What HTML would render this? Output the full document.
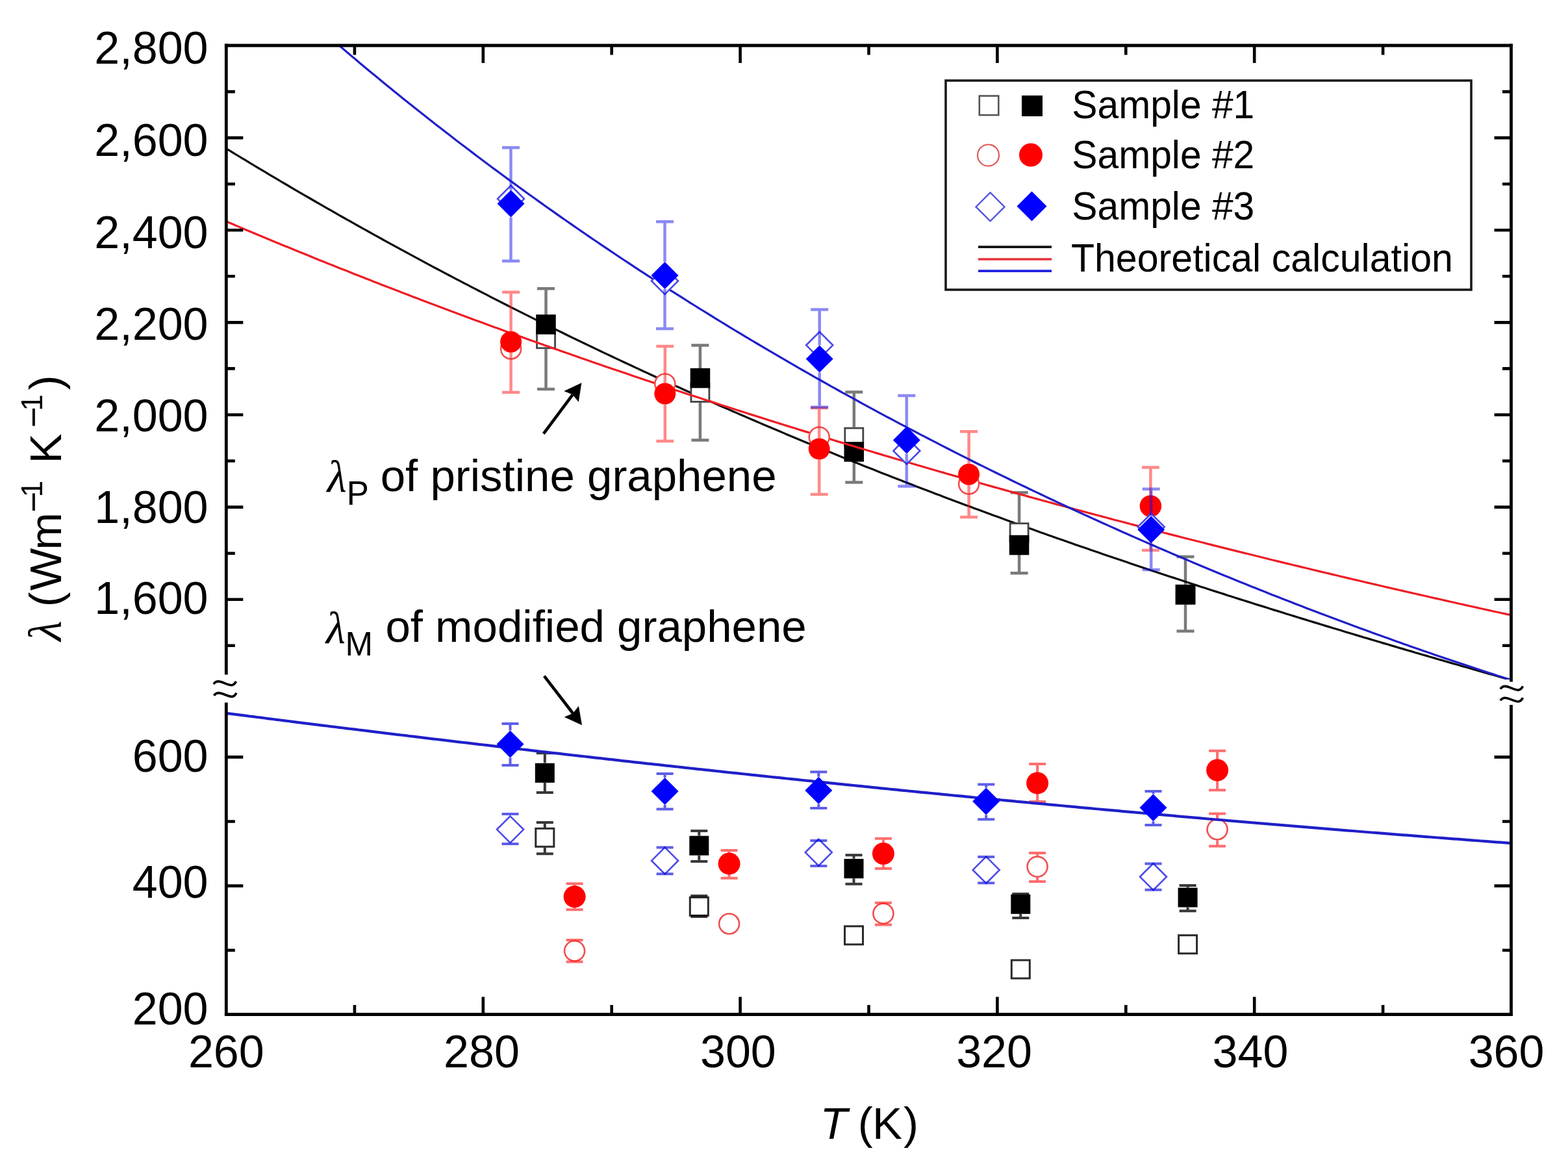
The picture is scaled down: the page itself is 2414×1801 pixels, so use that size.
<!DOCTYPE html><html><head><meta charset="utf-8"><title>Thermal conductivity of graphene</title><style>html,body{margin:0;padding:0;background:#fff;}svg{display:block;}text{font-family:'Liberation Sans',Arial,Helvetica,sans-serif;fill:#000;}</style></head><body>
<svg width="2414" height="1801" viewBox="0 0 2414 1801">
<rect width="2414" height="1801" fill="#fff"/>
<defs><clipPath id="cu"><rect x="348" y="70" width="1979" height="976"/></clipPath><clipPath id="cl"><rect x="348" y="1080" width="1979" height="482"/></clipPath></defs>
<path d="M348.0,228.5 L354.0,232.2 L360.0,235.8 L366.0,239.5 L372.0,243.1 L378.0,246.7 L384.0,250.4 L390.0,254.0 L396.0,257.6 L402.0,261.2 L408.0,264.7 L414.0,268.3 L420.0,271.9 L426.0,275.4 L432.0,279.0 L438.0,282.5 L444.0,286.0 L450.0,289.6 L456.0,293.1 L462.0,296.6 L468.0,300.1 L474.0,303.5 L480.0,307.0 L486.0,310.5 L492.0,313.9 L498.0,317.4 L504.0,320.8 L510.0,324.2 L516.0,327.6 L522.0,331.1 L528.0,334.5 L534.0,337.8 L540.0,341.2 L546.0,344.6 L552.0,348.0 L558.0,351.3 L564.0,354.7 L570.0,358.0 L576.0,361.3 L582.0,364.7 L588.0,368.0 L594.0,371.3 L600.0,374.6 L606.0,377.9 L612.0,381.1 L618.0,384.4 L624.0,387.7 L630.0,390.9 L636.0,394.2 L642.0,397.4 L648.0,400.6 L654.0,403.9 L660.0,407.1 L666.0,410.3 L672.0,413.5 L678.0,416.6 L684.0,419.8 L690.0,423.0 L696.0,426.1 L702.0,429.3 L708.0,432.4 L714.0,435.6 L720.0,438.7 L726.0,441.8 L732.0,444.9 L738.0,448.0 L744.0,451.1 L750.0,454.2 L756.0,457.3 L762.0,460.4 L768.0,463.4 L774.0,466.5 L780.0,469.5 L786.0,472.6 L792.0,475.6 L798.0,478.6 L804.0,481.6 L810.0,484.6 L816.0,487.6 L822.0,490.6 L828.0,493.6 L834.0,496.6 L840.0,499.5 L846.0,502.5 L852.0,505.4 L858.0,508.4 L864.0,511.3 L870.0,514.2 L876.0,517.2 L882.0,520.1 L888.0,523.0 L894.0,525.9 L900.0,528.8 L906.0,531.6 L912.0,534.5 L918.0,537.4 L924.0,540.2 L930.0,543.1 L936.0,545.9 L942.0,548.8 L948.0,551.6 L954.0,554.4 L960.0,557.2 L966.0,560.0 L972.0,562.8 L978.0,565.6 L984.0,568.4 L990.0,571.2 L996.0,573.9 L1002.0,576.7 L1008.0,579.5 L1014.0,582.2 L1020.0,584.9 L1026.0,587.7 L1032.0,590.4 L1038.0,593.1 L1044.0,595.8 L1050.0,598.5 L1056.0,601.2 L1062.0,603.9 L1068.0,606.6 L1074.0,609.3 L1080.0,611.9 L1086.0,614.6 L1092.0,617.2 L1098.0,619.9 L1104.0,622.5 L1110.0,625.2 L1116.0,627.8 L1122.0,630.4 L1128.0,633.0 L1134.0,635.6 L1140.0,638.2 L1146.0,640.8 L1152.0,643.4 L1158.0,646.0 L1164.0,648.5 L1170.0,651.1 L1176.0,653.7 L1182.0,656.2 L1188.0,658.8 L1194.0,661.3 L1200.0,663.8 L1206.0,666.4 L1212.0,668.9 L1218.0,671.4 L1224.0,673.9 L1230.0,676.4 L1236.0,678.9 L1242.0,681.4 L1248.0,683.8 L1254.0,686.3 L1260.0,688.8 L1266.0,691.2 L1272.0,693.7 L1278.0,696.1 L1284.0,698.6 L1290.0,701.0 L1296.0,703.4 L1302.0,705.9 L1308.0,708.3 L1314.0,710.7 L1320.0,713.1 L1326.0,715.5 L1332.0,717.9 L1338.0,720.3 L1344.0,722.6 L1350.0,725.0 L1356.0,727.4 L1362.0,729.7 L1368.0,732.1 L1374.0,734.4 L1380.0,736.8 L1386.0,739.1 L1392.0,741.4 L1398.0,743.8 L1404.0,746.1 L1410.0,748.4 L1416.0,750.7 L1422.0,753.0 L1428.0,755.3 L1434.0,757.6 L1440.0,759.9 L1446.0,762.1 L1452.0,764.4 L1458.0,766.7 L1464.0,768.9 L1470.0,771.2 L1476.0,773.4 L1482.0,775.7 L1488.0,777.9 L1494.0,780.1 L1500.0,782.4 L1506.0,784.6 L1512.0,786.8 L1518.0,789.0 L1524.0,791.2 L1530.0,793.4 L1536.0,795.6 L1542.0,797.8 L1548.0,800.0 L1554.0,802.2 L1560.0,804.3 L1566.0,806.5 L1572.0,808.7 L1578.0,810.8 L1584.0,813.0 L1590.0,815.1 L1596.0,817.3 L1602.0,819.4 L1608.0,821.5 L1614.0,823.7 L1620.0,825.8 L1626.0,827.9 L1632.0,830.0 L1638.0,832.1 L1644.0,834.2 L1650.0,836.3 L1656.0,838.4 L1662.0,840.5 L1668.0,842.6 L1674.0,844.6 L1680.0,846.7 L1686.0,848.8 L1692.0,850.8 L1698.0,852.9 L1704.0,855.0 L1710.0,857.0 L1716.0,859.0 L1722.0,861.1 L1728.0,863.1 L1734.0,865.1 L1740.0,867.2 L1746.0,869.2 L1752.0,871.2 L1758.0,873.2 L1764.0,875.2 L1770.0,877.2 L1776.0,879.2 L1782.0,881.2 L1788.0,883.2 L1794.0,885.2 L1800.0,887.2 L1806.0,889.1 L1812.0,891.1 L1818.0,893.1 L1824.0,895.0 L1830.0,897.0 L1836.0,899.0 L1842.0,900.9 L1848.0,902.9 L1854.0,904.8 L1860.0,906.7 L1866.0,908.7 L1872.0,910.6 L1878.0,912.5 L1884.0,914.4 L1890.0,916.4 L1896.0,918.3 L1902.0,920.2 L1908.0,922.1 L1914.0,924.0 L1920.0,925.9 L1926.0,927.8 L1932.0,929.7 L1938.0,931.6 L1944.0,933.4 L1950.0,935.3 L1956.0,937.2 L1962.0,939.1 L1968.0,940.9 L1974.0,942.8 L1980.0,944.7 L1986.0,946.5 L1992.0,948.4 L1998.0,950.2 L2004.0,952.1 L2010.0,953.9 L2016.0,955.7 L2022.0,957.6 L2028.0,959.4 L2034.0,961.2 L2040.0,963.1 L2046.0,964.9 L2052.0,966.7 L2058.0,968.5 L2064.0,970.3 L2070.0,972.2 L2076.0,974.0 L2082.0,975.8 L2088.0,977.6 L2094.0,979.4 L2100.0,981.2 L2106.0,982.9 L2112.0,984.7 L2118.0,986.5 L2124.0,988.3 L2130.0,990.1 L2136.0,991.8 L2142.0,993.6 L2148.0,995.4 L2154.0,997.2 L2160.0,998.9 L2166.0,1000.7 L2172.0,1002.4 L2178.0,1004.2 L2184.0,1006.0 L2190.0,1007.7 L2196.0,1009.4 L2202.0,1011.2 L2208.0,1012.9 L2214.0,1014.7 L2220.0,1016.4 L2226.0,1018.1 L2232.0,1019.9 L2238.0,1021.6 L2244.0,1023.3 L2250.0,1025.1 L2256.0,1026.8 L2262.0,1028.5 L2268.0,1030.2 L2274.0,1031.9 L2280.0,1033.6 L2286.0,1035.4 L2292.0,1037.1 L2298.0,1038.8 L2304.0,1040.5 L2310.0,1042.2 L2316.0,1043.9 L2322.0,1045.6 L2327.0,1047.0" stroke="#0a0a0a" stroke-width="3.2" fill="none" stroke-linejoin="round" clip-path="url(#cu)"/>
<rect x="826.5" y="507.8" width="28" height="28" fill="#fff" stroke="#444444" stroke-width="2.8"/>
<rect x="1063.9" y="590.4" width="28" height="28" fill="#fff" stroke="#444444" stroke-width="2.8"/>
<rect x="1300.8" y="659.0" width="28" height="28" fill="#fff" stroke="#444444" stroke-width="2.8"/>
<rect x="1555.1" y="805.7" width="28" height="28" fill="#fff" stroke="#444444" stroke-width="2.8"/>
<rect x="1811.0" y="901.2" width="28" height="28" fill="#fff" stroke="#444444" stroke-width="2.8"/>
<rect x="824.8" y="1275.3" width="28" height="28" fill="#fff" stroke="#2a2a2a" stroke-width="3"/>
<rect x="1062.3" y="1381.3" width="28" height="28" fill="#fff" stroke="#2a2a2a" stroke-width="3"/>
<rect x="1300.5" y="1425.8" width="28" height="28" fill="#fff" stroke="#2a2a2a" stroke-width="3"/>
<rect x="1557.3" y="1478.0" width="28" height="28" fill="#fff" stroke="#2a2a2a" stroke-width="3"/>
<rect x="1814.6" y="1439.7" width="28" height="28" fill="#fff" stroke="#2a2a2a" stroke-width="3"/>
<rect x="825.2" y="484.2" width="30.5" height="30.5" fill="#000000"/>
<rect x="1062.7" y="566.8" width="30.5" height="30.5" fill="#000000"/>
<rect x="1299.5" y="680.2" width="30.5" height="30.5" fill="#000000"/>
<rect x="1553.8" y="823.8" width="30.5" height="30.5" fill="#000000"/>
<rect x="1809.8" y="900.0" width="30.5" height="30.5" fill="#000000"/>
<rect x="823.8" y="1174.8" width="30" height="30" fill="#000000"/>
<rect x="1061.3" y="1286.7" width="30" height="30" fill="#000000"/>
<rect x="1299.5" y="1322.1" width="30" height="30" fill="#000000"/>
<rect x="1556.3" y="1376.8" width="30" height="30" fill="#000000"/>
<rect x="1813.6" y="1366.5" width="30" height="30" fill="#000000"/>
<path d="M840.5,444.2 V506.4 M827.0,444.2 H854.0 M840.5,537.2 V599.1 M827.0,599.1 H854.0" stroke="rgba(0,0,0,0.52)" stroke-width="4.5" fill="none"/>
<path d="M1077.9,531.6 V589.0 M1064.4,531.6 H1091.4 M1077.9,619.8 V677.5 M1064.4,677.5 H1091.4" stroke="rgba(0,0,0,0.52)" stroke-width="4.5" fill="none"/>
<path d="M1314.8,603.4 V657.6 M1301.3,603.4 H1328.3 M1314.8,688.4 V742.4 M1301.3,742.4 H1328.3" stroke="rgba(0,0,0,0.52)" stroke-width="4.5" fill="none"/>
<path d="M1569.1,758.2 V804.3 M1555.6,758.2 H1582.6 M1569.1,835.1 V882.2 M1555.6,882.2 H1582.6" stroke="rgba(0,0,0,0.52)" stroke-width="4.5" fill="none"/>
<path d="M1825.0,857.1 V899.8 M1811.5,857.1 H1838.5 M1825.0,930.6 V971.5 M1811.5,971.5 H1838.5" stroke="rgba(0,0,0,0.52)" stroke-width="4.5" fill="none"/>
<path d="M838.8,1159.3 V1174.5 M825.8,1159.3 H851.8 M838.8,1205.0 V1219.9 M825.8,1219.9 H851.8" stroke="rgba(0,0,0,0.78)" stroke-width="4" fill="none"/>
<path d="M1076.3,1279.0 V1286.5 M1063.3,1279.0 H1089.3 M1076.3,1317.0 V1325.9 M1063.3,1325.9 H1089.3" stroke="rgba(0,0,0,0.78)" stroke-width="4" fill="none"/>
<path d="M1314.5,1316.2 V1321.8 M1301.5,1316.2 H1327.5 M1314.5,1352.3 V1360.7 M1301.5,1360.7 H1327.5" stroke="rgba(0,0,0,0.78)" stroke-width="4" fill="none"/>
<path d="M1571.3,1376.0 V1376.5 M1558.3,1376.0 H1584.3 M1571.3,1407.0 V1413.0 M1558.3,1413.0 H1584.3" stroke="rgba(0,0,0,0.78)" stroke-width="4" fill="none"/>
<path d="M1828.6,1363.0 V1366.2 M1815.6,1363.0 H1841.6 M1828.6,1396.8 V1402.2 M1815.6,1402.2 H1841.6" stroke="rgba(0,0,0,0.78)" stroke-width="4" fill="none"/>
<path d="M838.8,1265.9 V1273.9 M825.8,1265.9 H851.8 M838.8,1304.7 V1314.3 M825.8,1314.3 H851.8" stroke="rgba(0,0,0,0.78)" stroke-width="4" fill="none"/>
<path d="M1076.3,1379.0 V1379.9 M1063.3,1379.0 H1089.3 M1076.3,1410.7 V1411.0 M1063.3,1411.0 H1089.3" stroke="rgba(0,0,0,0.78)" stroke-width="4" fill="none"/>



<path d="M348.0,340.7 L354.0,343.3 L360.0,345.8 L366.0,348.4 L372.0,350.9 L378.0,353.4 L384.0,355.9 L390.0,358.5 L396.0,361.0 L402.0,363.5 L408.0,366.0 L414.0,368.5 L420.0,370.9 L426.0,373.4 L432.0,375.9 L438.0,378.4 L444.0,380.8 L450.0,383.3 L456.0,385.7 L462.0,388.2 L468.0,390.6 L474.0,393.1 L480.0,395.5 L486.0,397.9 L492.0,400.4 L498.0,402.8 L504.0,405.2 L510.0,407.6 L516.0,410.0 L522.0,412.4 L528.0,414.8 L534.0,417.1 L540.0,419.5 L546.0,421.9 L552.0,424.3 L558.0,426.6 L564.0,429.0 L570.0,431.3 L576.0,433.7 L582.0,436.0 L588.0,438.4 L594.0,440.7 L600.0,443.0 L606.0,445.3 L612.0,447.6 L618.0,450.0 L624.0,452.3 L630.0,454.6 L636.0,456.9 L642.0,459.1 L648.0,461.4 L654.0,463.7 L660.0,466.0 L666.0,468.2 L672.0,470.5 L678.0,472.8 L684.0,475.0 L690.0,477.3 L696.0,479.5 L702.0,481.8 L708.0,484.0 L714.0,486.2 L720.0,488.5 L726.0,490.7 L732.0,492.9 L738.0,495.1 L744.0,497.3 L750.0,499.5 L756.0,501.7 L762.0,503.9 L768.0,506.1 L774.0,508.3 L780.0,510.4 L786.0,512.6 L792.0,514.8 L798.0,516.9 L804.0,519.1 L810.0,521.2 L816.0,523.4 L822.0,525.5 L828.0,527.7 L834.0,529.8 L840.0,531.9 L846.0,534.1 L852.0,536.2 L858.0,538.3 L864.0,540.4 L870.0,542.5 L876.0,544.6 L882.0,546.7 L888.0,548.8 L894.0,550.9 L900.0,553.0 L906.0,555.1 L912.0,557.2 L918.0,559.2 L924.0,561.3 L930.0,563.4 L936.0,565.4 L942.0,567.5 L948.0,569.5 L954.0,571.6 L960.0,573.6 L966.0,575.6 L972.0,577.7 L978.0,579.7 L984.0,581.7 L990.0,583.8 L996.0,585.8 L1002.0,587.8 L1008.0,589.8 L1014.0,591.8 L1020.0,593.8 L1026.0,595.8 L1032.0,597.8 L1038.0,599.8 L1044.0,601.7 L1050.0,603.7 L1056.0,605.7 L1062.0,607.7 L1068.0,609.6 L1074.0,611.6 L1080.0,613.6 L1086.0,615.5 L1092.0,617.5 L1098.0,619.4 L1104.0,621.3 L1110.0,623.3 L1116.0,625.2 L1122.0,627.1 L1128.0,629.1 L1134.0,631.0 L1140.0,632.9 L1146.0,634.8 L1152.0,636.7 L1158.0,638.6 L1164.0,640.5 L1170.0,642.4 L1176.0,644.3 L1182.0,646.2 L1188.0,648.1 L1194.0,650.0 L1200.0,651.9 L1206.0,653.7 L1212.0,655.6 L1218.0,657.5 L1224.0,659.3 L1230.0,661.2 L1236.0,663.1 L1242.0,664.9 L1248.0,666.8 L1254.0,668.6 L1260.0,670.4 L1266.0,672.3 L1272.0,674.1 L1278.0,675.9 L1284.0,677.8 L1290.0,679.6 L1296.0,681.4 L1302.0,683.2 L1308.0,685.0 L1314.0,686.8 L1320.0,688.6 L1326.0,690.4 L1332.0,692.2 L1338.0,694.0 L1344.0,695.8 L1350.0,697.6 L1356.0,699.4 L1362.0,701.2 L1368.0,702.9 L1374.0,704.7 L1380.0,706.5 L1386.0,708.3 L1392.0,710.0 L1398.0,711.8 L1404.0,713.5 L1410.0,715.3 L1416.0,717.0 L1422.0,718.8 L1428.0,720.5 L1434.0,722.2 L1440.0,724.0 L1446.0,725.7 L1452.0,727.4 L1458.0,729.2 L1464.0,730.9 L1470.0,732.6 L1476.0,734.3 L1482.0,736.0 L1488.0,737.7 L1494.0,739.4 L1500.0,741.1 L1506.0,742.8 L1512.0,744.5 L1518.0,746.2 L1524.0,747.9 L1530.0,749.6 L1536.0,751.3 L1542.0,752.9 L1548.0,754.6 L1554.0,756.3 L1560.0,757.9 L1566.0,759.6 L1572.0,761.3 L1578.0,762.9 L1584.0,764.6 L1590.0,766.2 L1596.0,767.9 L1602.0,769.5 L1608.0,771.2 L1614.0,772.8 L1620.0,774.4 L1626.0,776.1 L1632.0,777.7 L1638.0,779.3 L1644.0,781.0 L1650.0,782.6 L1656.0,784.2 L1662.0,785.8 L1668.0,787.4 L1674.0,789.0 L1680.0,790.6 L1686.0,792.2 L1692.0,793.8 L1698.0,795.4 L1704.0,797.0 L1710.0,798.6 L1716.0,800.2 L1722.0,801.8 L1728.0,803.3 L1734.0,804.9 L1740.0,806.5 L1746.0,808.1 L1752.0,809.6 L1758.0,811.2 L1764.0,812.8 L1770.0,814.3 L1776.0,815.9 L1782.0,817.4 L1788.0,819.0 L1794.0,820.5 L1800.0,822.1 L1806.0,823.6 L1812.0,825.1 L1818.0,826.7 L1824.0,828.2 L1830.0,829.7 L1836.0,831.3 L1842.0,832.8 L1848.0,834.3 L1854.0,835.8 L1860.0,837.4 L1866.0,838.9 L1872.0,840.4 L1878.0,841.9 L1884.0,843.4 L1890.0,844.9 L1896.0,846.4 L1902.0,847.9 L1908.0,849.4 L1914.0,850.9 L1920.0,852.3 L1926.0,853.8 L1932.0,855.3 L1938.0,856.8 L1944.0,858.3 L1950.0,859.7 L1956.0,861.2 L1962.0,862.7 L1968.0,864.1 L1974.0,865.6 L1980.0,867.1 L1986.0,868.5 L1992.0,870.0 L1998.0,871.4 L2004.0,872.9 L2010.0,874.3 L2016.0,875.8 L2022.0,877.2 L2028.0,878.6 L2034.0,880.1 L2040.0,881.5 L2046.0,882.9 L2052.0,884.4 L2058.0,885.8 L2064.0,887.2 L2070.0,888.6 L2076.0,890.1 L2082.0,891.5 L2088.0,892.9 L2094.0,894.3 L2100.0,895.7 L2106.0,897.1 L2112.0,898.5 L2118.0,899.9 L2124.0,901.3 L2130.0,902.7 L2136.0,904.1 L2142.0,905.5 L2148.0,906.9 L2154.0,908.2 L2160.0,909.6 L2166.0,911.0 L2172.0,912.4 L2178.0,913.7 L2184.0,915.1 L2190.0,916.5 L2196.0,917.8 L2202.0,919.2 L2208.0,920.6 L2214.0,921.9 L2220.0,923.3 L2226.0,924.6 L2232.0,926.0 L2238.0,927.3 L2244.0,928.7 L2250.0,930.0 L2256.0,931.4 L2262.0,932.7 L2268.0,934.0 L2274.0,935.4 L2280.0,936.7 L2286.0,938.0 L2292.0,939.4 L2298.0,940.7 L2304.0,942.0 L2310.0,943.3 L2316.0,944.6 L2322.0,945.9 L2327.0,947.0" stroke="#ee1c24" stroke-width="3.2" fill="none" stroke-linejoin="round" clip-path="url(#cu)"/>
<circle cx="786.6" cy="537.0" r="15.5" fill="#fff" stroke="#f05050" stroke-width="2.6"/>
<circle cx="1023.8" cy="591.0" r="15.5" fill="#fff" stroke="#f05050" stroke-width="2.6"/>
<circle cx="1261.2" cy="673.0" r="15.5" fill="#fff" stroke="#f05050" stroke-width="2.6"/>
<circle cx="1491.6" cy="745.0" r="15.5" fill="#fff" stroke="#f05050" stroke-width="2.6"/>
<circle cx="1771.4" cy="779.0" r="15.5" fill="#fff" stroke="#f05050" stroke-width="2.6"/>
<circle cx="884.6" cy="1463.8" r="15.5" fill="#fff" stroke="#f05050" stroke-width="2.6"/>
<circle cx="1122.6" cy="1422.0" r="15.5" fill="#fff" stroke="#f05050" stroke-width="2.6"/>
<circle cx="1359.9" cy="1406.2" r="15.5" fill="#fff" stroke="#f05050" stroke-width="2.6"/>
<circle cx="1597.1" cy="1334.1" r="15.5" fill="#fff" stroke="#f05050" stroke-width="2.6"/>
<circle cx="1874.1" cy="1276.8" r="15.5" fill="#fff" stroke="#f05050" stroke-width="2.6"/>
<circle cx="786.6" cy="526.2" r="16.5" fill="#ff0000"/>
<circle cx="1023.8" cy="606.0" r="16.5" fill="#ff0000"/>
<circle cx="1261.2" cy="691.0" r="16.5" fill="#ff0000"/>
<circle cx="1491.6" cy="730.2" r="16.5" fill="#ff0000"/>
<circle cx="1771.4" cy="779.0" r="16.5" fill="#ff0000"/>
<circle cx="884.6" cy="1380.3" r="17" fill="#ff0000"/>
<circle cx="1122.6" cy="1329.4" r="17" fill="#ff0000"/>
<circle cx="1359.9" cy="1314.0" r="17" fill="#ff0000"/>
<circle cx="1597.1" cy="1205.4" r="17" fill="#ff0000"/>
<circle cx="1874.1" cy="1185.5" r="17" fill="#ff0000"/>
<path d="M786.6,449.7 V509.7 M773.1,449.7 H800.1 M786.6,542.7 V604.0 M773.1,604.0 H800.1" stroke="rgba(255,20,20,0.5)" stroke-width="4.5" fill="none"/>
<path d="M1023.8,533.0 V589.5 M1010.3,533.0 H1037.3 M1023.8,622.5 V679.0 M1010.3,679.0 H1037.3" stroke="rgba(255,20,20,0.5)" stroke-width="4.5" fill="none"/>
<path d="M1261.2,628.0 V674.5 M1247.7,628.0 H1274.7 M1261.2,707.5 V760.9 M1247.7,760.9 H1274.7" stroke="rgba(255,20,20,0.5)" stroke-width="4.5" fill="none"/>
<path d="M1491.6,664.3 V713.7 M1478.1,664.3 H1505.1 M1491.6,746.7 V796.0 M1478.1,796.0 H1505.1" stroke="rgba(255,20,20,0.5)" stroke-width="4.5" fill="none"/>
<path d="M1771.4,719.6 V762.5 M1757.9,719.6 H1784.9 M1771.4,795.5 V847.1 M1757.9,847.1 H1784.9" stroke="rgba(255,20,20,0.5)" stroke-width="4.5" fill="none"/>
<path d="M884.6,1360.3 V1363.8 M871.6,1360.3 H897.6 M884.6,1396.8 V1400.2 M871.6,1400.2 H897.6" stroke="rgba(255,20,20,0.62)" stroke-width="4" fill="none"/>
<path d="M1122.6,1309.0 V1312.9 M1109.6,1309.0 H1135.6 M1122.6,1345.9 V1351.7 M1109.6,1351.7 H1135.6" stroke="rgba(255,20,20,0.62)" stroke-width="4" fill="none"/>
<path d="M1359.9,1290.8 V1297.5 M1346.9,1290.8 H1372.9 M1359.9,1330.5 V1337.1 M1346.9,1337.1 H1372.9" stroke="rgba(255,20,20,0.62)" stroke-width="4" fill="none"/>
<path d="M1597.1,1176.1 V1188.9 M1584.1,1176.1 H1610.1 M1597.1,1221.9 V1233.9 M1584.1,1233.9 H1610.1" stroke="rgba(255,20,20,0.62)" stroke-width="4" fill="none"/>
<path d="M1874.1,1155.8 V1169.0 M1861.1,1155.8 H1887.1 M1874.1,1202.0 V1216.3 M1861.1,1216.3 H1887.1" stroke="rgba(255,20,20,0.62)" stroke-width="4" fill="none"/>
<path d="M871.6,1447.0 H897.6 M871.6,1480.5 H897.6" stroke="rgba(255,20,20,0.62)" stroke-width="4" fill="none"/>

<path d="M1346.9,1389.8 H1372.9 M1359.9,1423.0 V1423.4 M1346.9,1423.4 H1372.9" stroke="rgba(255,20,20,0.62)" stroke-width="4" fill="none"/>
<path d="M1597.1,1313.0 V1317.3 M1584.1,1313.0 H1610.1 M1597.1,1350.9 V1357.1 M1584.1,1357.1 H1610.1" stroke="rgba(255,20,20,0.62)" stroke-width="4" fill="none"/>
<path d="M1874.1,1252.6 V1260.0 M1861.1,1252.6 H1887.1 M1874.1,1293.6 V1302.5 M1861.1,1302.5 H1887.1" stroke="rgba(255,20,20,0.62)" stroke-width="4" fill="none"/>
<path d="M505.0,55.4 L511.0,60.6 L517.0,65.7 L523.0,70.8 L529.0,75.9 L535.0,81.0 L541.0,86.1 L547.0,91.1 L553.0,96.2 L559.0,101.2 L565.0,106.2 L571.0,111.2 L577.0,116.1 L583.0,121.1 L589.0,126.0 L595.0,130.9 L601.0,135.8 L607.0,140.7 L613.0,145.5 L619.0,150.4 L625.0,155.2 L631.0,160.0 L637.0,164.8 L643.0,169.5 L649.0,174.3 L655.0,179.0 L661.0,183.8 L667.0,188.5 L673.0,193.2 L679.0,197.8 L685.0,202.5 L691.0,207.1 L697.0,211.8 L703.0,216.4 L709.0,221.0 L715.0,225.5 L721.0,230.1 L727.0,234.6 L733.0,239.2 L739.0,243.7 L745.0,248.2 L751.0,252.7 L757.0,257.2 L763.0,261.6 L769.0,266.0 L775.0,270.5 L781.0,274.9 L787.0,279.3 L793.0,283.6 L799.0,288.0 L805.0,292.4 L811.0,296.7 L817.0,301.0 L823.0,305.3 L829.0,309.6 L835.0,313.9 L841.0,318.2 L847.0,322.4 L853.0,326.6 L859.0,330.9 L865.0,335.1 L871.0,339.2 L877.0,343.4 L883.0,347.6 L889.0,351.7 L895.0,355.9 L901.0,360.0 L907.0,364.1 L913.0,368.2 L919.0,372.3 L925.0,376.3 L931.0,380.4 L937.0,384.4 L943.0,388.5 L949.0,392.5 L955.0,396.5 L961.0,400.5 L967.0,404.4 L973.0,408.4 L979.0,412.3 L985.0,416.3 L991.0,420.2 L997.0,424.1 L1003.0,428.0 L1009.0,431.9 L1015.0,435.8 L1021.0,439.6 L1027.0,443.5 L1033.0,447.3 L1039.0,451.1 L1045.0,454.9 L1051.0,458.7 L1057.0,462.5 L1063.0,466.3 L1069.0,470.0 L1075.0,473.8 L1081.0,477.5 L1087.0,481.2 L1093.0,484.9 L1099.0,488.6 L1105.0,492.3 L1111.0,496.0 L1117.0,499.7 L1123.0,503.3 L1129.0,507.0 L1135.0,510.6 L1141.0,514.2 L1147.0,517.8 L1153.0,521.4 L1159.0,525.0 L1165.0,528.5 L1171.0,532.1 L1177.0,535.7 L1183.0,539.2 L1189.0,542.7 L1195.0,546.2 L1201.0,549.7 L1207.0,553.2 L1213.0,556.7 L1219.0,560.2 L1225.0,563.6 L1231.0,567.1 L1237.0,570.5 L1243.0,573.9 L1249.0,577.4 L1255.0,580.8 L1261.0,584.2 L1267.0,587.5 L1273.0,590.9 L1279.0,594.3 L1285.0,597.6 L1291.0,601.0 L1297.0,604.3 L1303.0,607.6 L1309.0,610.9 L1315.0,614.2 L1321.0,617.5 L1327.0,620.8 L1333.0,624.1 L1339.0,627.3 L1345.0,630.6 L1351.0,633.8 L1357.0,637.1 L1363.0,640.3 L1369.0,643.5 L1375.0,646.7 L1381.0,649.9 L1387.0,653.1 L1393.0,656.2 L1399.0,659.4 L1405.0,662.5 L1411.0,665.7 L1417.0,668.8 L1423.0,671.9 L1429.0,675.0 L1435.0,678.1 L1441.0,681.2 L1447.0,684.3 L1453.0,687.4 L1459.0,690.5 L1465.0,693.5 L1471.0,696.6 L1477.0,699.6 L1483.0,702.6 L1489.0,705.7 L1495.0,708.7 L1501.0,711.7 L1507.0,714.7 L1513.0,717.6 L1519.0,720.6 L1525.0,723.6 L1531.0,726.5 L1537.0,729.5 L1543.0,732.4 L1549.0,735.3 L1555.0,738.3 L1561.0,741.2 L1567.0,744.1 L1573.0,747.0 L1579.0,749.8 L1585.0,752.7 L1591.0,755.6 L1597.0,758.4 L1603.0,761.3 L1609.0,764.1 L1615.0,767.0 L1621.0,769.8 L1627.0,772.6 L1633.0,775.4 L1639.0,778.2 L1645.0,781.0 L1651.0,783.8 L1657.0,786.5 L1663.0,789.3 L1669.0,792.1 L1675.0,794.8 L1681.0,797.6 L1687.0,800.3 L1693.0,803.0 L1699.0,805.7 L1705.0,808.4 L1711.0,811.1 L1717.0,813.8 L1723.0,816.5 L1729.0,819.2 L1735.0,821.8 L1741.0,824.5 L1747.0,827.1 L1753.0,829.8 L1759.0,832.4 L1765.0,835.0 L1771.0,837.6 L1777.0,840.3 L1783.0,842.9 L1789.0,845.5 L1795.0,848.0 L1801.0,850.6 L1807.0,853.2 L1813.0,855.7 L1819.0,858.3 L1825.0,860.8 L1831.0,863.4 L1837.0,865.9 L1843.0,868.4 L1849.0,870.9 L1855.0,873.4 L1861.0,875.9 L1867.0,878.4 L1873.0,880.9 L1879.0,883.4 L1885.0,885.9 L1891.0,888.3 L1897.0,890.8 L1903.0,893.2 L1909.0,895.7 L1915.0,898.1 L1921.0,900.5 L1927.0,902.9 L1933.0,905.3 L1939.0,907.7 L1945.0,910.1 L1951.0,912.5 L1957.0,914.9 L1963.0,917.2 L1969.0,919.6 L1975.0,921.9 L1981.0,924.3 L1987.0,926.6 L1993.0,929.0 L1999.0,931.3 L2005.0,933.6 L2011.0,935.9 L2017.0,938.2 L2023.0,940.5 L2029.0,942.8 L2035.0,945.1 L2041.0,947.3 L2047.0,949.6 L2053.0,951.8 L2059.0,954.1 L2065.0,956.3 L2071.0,958.6 L2077.0,960.8 L2083.0,963.0 L2089.0,965.2 L2095.0,967.4 L2101.0,969.6 L2107.0,971.8 L2113.0,974.0 L2119.0,976.2 L2125.0,978.3 L2131.0,980.5 L2137.0,982.6 L2143.0,984.8 L2149.0,986.9 L2155.0,989.1 L2161.0,991.2 L2167.0,993.3 L2173.0,995.4 L2179.0,997.5 L2185.0,999.6 L2191.0,1001.7 L2197.0,1003.7 L2203.0,1005.8 L2209.0,1007.9 L2215.0,1009.9 L2221.0,1012.0 L2227.0,1014.0 L2233.0,1016.1 L2239.0,1018.1 L2245.0,1020.1 L2251.0,1022.1 L2257.0,1024.1 L2263.0,1026.1 L2269.0,1028.1 L2275.0,1030.1 L2281.0,1032.0 L2287.0,1034.0 L2293.0,1036.0 L2299.0,1037.9 L2305.0,1039.9 L2311.0,1041.8 L2317.0,1043.7 L2323.0,1045.6 L2327.0,1046.9" stroke="#1f1fc8" stroke-width="3.2" fill="none" stroke-linejoin="round" clip-path="url(#cu)"/>
<path d="M348.0,1097.9 L354.0,1098.6 L360.0,1099.4 L366.0,1100.2 L372.0,1100.9 L378.0,1101.7 L384.0,1102.5 L390.0,1103.2 L396.0,1104.0 L402.0,1104.7 L408.0,1105.5 L414.0,1106.3 L420.0,1107.0 L426.0,1107.8 L432.0,1108.5 L438.0,1109.3 L444.0,1110.0 L450.0,1110.8 L456.0,1111.6 L462.0,1112.3 L468.0,1113.1 L474.0,1113.8 L480.0,1114.6 L486.0,1115.3 L492.0,1116.1 L498.0,1116.8 L504.0,1117.5 L510.0,1118.3 L516.0,1119.0 L522.0,1119.8 L528.0,1120.5 L534.0,1121.3 L540.0,1122.0 L546.0,1122.7 L552.0,1123.5 L558.0,1124.2 L564.0,1124.9 L570.0,1125.7 L576.0,1126.4 L582.0,1127.1 L588.0,1127.9 L594.0,1128.6 L600.0,1129.3 L606.0,1130.1 L612.0,1130.8 L618.0,1131.5 L624.0,1132.2 L630.0,1133.0 L636.0,1133.7 L642.0,1134.4 L648.0,1135.1 L654.0,1135.8 L660.0,1136.6 L666.0,1137.3 L672.0,1138.0 L678.0,1138.7 L684.0,1139.4 L690.0,1140.1 L696.0,1140.9 L702.0,1141.6 L708.0,1142.3 L714.0,1143.0 L720.0,1143.7 L726.0,1144.4 L732.0,1145.1 L738.0,1145.8 L744.0,1146.5 L750.0,1147.2 L756.0,1147.9 L762.0,1148.6 L768.0,1149.3 L774.0,1150.0 L780.0,1150.7 L786.0,1151.4 L792.0,1152.1 L798.0,1152.8 L804.0,1153.5 L810.0,1154.2 L816.0,1154.9 L822.0,1155.6 L828.0,1156.3 L834.0,1157.0 L840.0,1157.7 L846.0,1158.4 L852.0,1159.1 L858.0,1159.7 L864.0,1160.4 L870.0,1161.1 L876.0,1161.8 L882.0,1162.5 L888.0,1163.2 L894.0,1163.8 L900.0,1164.5 L906.0,1165.2 L912.0,1165.9 L918.0,1166.6 L924.0,1167.2 L930.0,1167.9 L936.0,1168.6 L942.0,1169.2 L948.0,1169.9 L954.0,1170.6 L960.0,1171.3 L966.0,1171.9 L972.0,1172.6 L978.0,1173.3 L984.0,1173.9 L990.0,1174.6 L996.0,1175.3 L1002.0,1175.9 L1008.0,1176.6 L1014.0,1177.2 L1020.0,1177.9 L1026.0,1178.6 L1032.0,1179.2 L1038.0,1179.9 L1044.0,1180.5 L1050.0,1181.2 L1056.0,1181.8 L1062.0,1182.5 L1068.0,1183.1 L1074.0,1183.8 L1080.0,1184.4 L1086.0,1185.1 L1092.0,1185.7 L1098.0,1186.4 L1104.0,1187.0 L1110.0,1187.7 L1116.0,1188.3 L1122.0,1189.0 L1128.0,1189.6 L1134.0,1190.2 L1140.0,1190.9 L1146.0,1191.5 L1152.0,1192.2 L1158.0,1192.8 L1164.0,1193.4 L1170.0,1194.1 L1176.0,1194.7 L1182.0,1195.3 L1188.0,1196.0 L1194.0,1196.6 L1200.0,1197.2 L1206.0,1197.9 L1212.0,1198.5 L1218.0,1199.1 L1224.0,1199.7 L1230.0,1200.4 L1236.0,1201.0 L1242.0,1201.6 L1248.0,1202.2 L1254.0,1202.9 L1260.0,1203.5 L1266.0,1204.1 L1272.0,1204.7 L1278.0,1205.3 L1284.0,1205.9 L1290.0,1206.6 L1296.0,1207.2 L1302.0,1207.8 L1308.0,1208.4 L1314.0,1209.0 L1320.0,1209.6 L1326.0,1210.2 L1332.0,1210.8 L1338.0,1211.4 L1344.0,1212.1 L1350.0,1212.7 L1356.0,1213.3 L1362.0,1213.9 L1368.0,1214.5 L1374.0,1215.1 L1380.0,1215.7 L1386.0,1216.3 L1392.0,1216.9 L1398.0,1217.5 L1404.0,1218.1 L1410.0,1218.7 L1416.0,1219.3 L1422.0,1219.8 L1428.0,1220.4 L1434.0,1221.0 L1440.0,1221.6 L1446.0,1222.2 L1452.0,1222.8 L1458.0,1223.4 L1464.0,1224.0 L1470.0,1224.6 L1476.0,1225.1 L1482.0,1225.7 L1488.0,1226.3 L1494.0,1226.9 L1500.0,1227.5 L1506.0,1228.0 L1512.0,1228.6 L1518.0,1229.2 L1524.0,1229.8 L1530.0,1230.4 L1536.0,1230.9 L1542.0,1231.5 L1548.0,1232.1 L1554.0,1232.6 L1560.0,1233.2 L1566.0,1233.8 L1572.0,1234.4 L1578.0,1234.9 L1584.0,1235.5 L1590.0,1236.1 L1596.0,1236.6 L1602.0,1237.2 L1608.0,1237.7 L1614.0,1238.3 L1620.0,1238.9 L1626.0,1239.4 L1632.0,1240.0 L1638.0,1240.5 L1644.0,1241.1 L1650.0,1241.7 L1656.0,1242.2 L1662.0,1242.8 L1668.0,1243.3 L1674.0,1243.9 L1680.0,1244.4 L1686.0,1245.0 L1692.0,1245.5 L1698.0,1246.1 L1704.0,1246.6 L1710.0,1247.2 L1716.0,1247.7 L1722.0,1248.2 L1728.0,1248.8 L1734.0,1249.3 L1740.0,1249.9 L1746.0,1250.4 L1752.0,1250.9 L1758.0,1251.5 L1764.0,1252.0 L1770.0,1252.6 L1776.0,1253.1 L1782.0,1253.6 L1788.0,1254.2 L1794.0,1254.7 L1800.0,1255.2 L1806.0,1255.7 L1812.0,1256.3 L1818.0,1256.8 L1824.0,1257.3 L1830.0,1257.9 L1836.0,1258.4 L1842.0,1258.9 L1848.0,1259.4 L1854.0,1260.0 L1860.0,1260.5 L1866.0,1261.0 L1872.0,1261.5 L1878.0,1262.0 L1884.0,1262.5 L1890.0,1263.1 L1896.0,1263.6 L1902.0,1264.1 L1908.0,1264.6 L1914.0,1265.1 L1920.0,1265.6 L1926.0,1266.1 L1932.0,1266.6 L1938.0,1267.2 L1944.0,1267.7 L1950.0,1268.2 L1956.0,1268.7 L1962.0,1269.2 L1968.0,1269.7 L1974.0,1270.2 L1980.0,1270.7 L1986.0,1271.2 L1992.0,1271.7 L1998.0,1272.2 L2004.0,1272.7 L2010.0,1273.2 L2016.0,1273.7 L2022.0,1274.2 L2028.0,1274.7 L2034.0,1275.1 L2040.0,1275.6 L2046.0,1276.1 L2052.0,1276.6 L2058.0,1277.1 L2064.0,1277.6 L2070.0,1278.1 L2076.0,1278.6 L2082.0,1279.0 L2088.0,1279.5 L2094.0,1280.0 L2100.0,1280.5 L2106.0,1281.0 L2112.0,1281.5 L2118.0,1281.9 L2124.0,1282.4 L2130.0,1282.9 L2136.0,1283.4 L2142.0,1283.8 L2148.0,1284.3 L2154.0,1284.8 L2160.0,1285.3 L2166.0,1285.7 L2172.0,1286.2 L2178.0,1286.7 L2184.0,1287.1 L2190.0,1287.6 L2196.0,1288.1 L2202.0,1288.5 L2208.0,1289.0 L2214.0,1289.5 L2220.0,1289.9 L2226.0,1290.4 L2232.0,1290.8 L2238.0,1291.3 L2244.0,1291.7 L2250.0,1292.2 L2256.0,1292.7 L2262.0,1293.1 L2268.0,1293.6 L2274.0,1294.0 L2280.0,1294.5 L2286.0,1294.9 L2292.0,1295.4 L2298.0,1295.8 L2304.0,1296.3 L2310.0,1296.7 L2316.0,1297.2 L2322.0,1297.6 L2326.0,1297.9" stroke="#1f1fc8" stroke-width="4.2" fill="none" stroke-linejoin="round"/>
<polygon points="786.5,285.5 807.0,306.0 786.5,326.5 766.0,306.0" fill="#fff" stroke="#4a4ae8" stroke-width="2.6"/>
<polygon points="1023.5,412.0 1044.0,432.5 1023.5,453.0 1003.0,432.5" fill="#fff" stroke="#4a4ae8" stroke-width="2.6"/>
<polygon points="1261.7,510.8 1282.2,531.3 1261.7,551.8 1241.2,531.3" fill="#fff" stroke="#4a4ae8" stroke-width="2.6"/>
<polygon points="1395.8,673.5 1416.3,694.0 1395.8,714.5 1375.3,694.0" fill="#fff" stroke="#4a4ae8" stroke-width="2.6"/>
<polygon points="1772.2,790.5 1792.7,811.0 1772.2,831.5 1751.7,811.0" fill="#fff" stroke="#4a4ae8" stroke-width="2.6"/>
<polygon points="785.5,1256.3 806.0,1276.8 785.5,1297.3 765.0,1276.8" fill="#fff" stroke="#4a4ae8" stroke-width="2.6"/>
<polygon points="1023.6,1304.4 1044.1,1324.9 1023.6,1345.4 1003.1,1324.9" fill="#fff" stroke="#4a4ae8" stroke-width="2.6"/>
<polygon points="1260.3,1291.6 1280.8,1312.1 1260.3,1332.6 1239.8,1312.1" fill="#fff" stroke="#4a4ae8" stroke-width="2.6"/>
<polygon points="1518.2,1318.7 1538.7,1339.2 1518.2,1359.7 1497.7,1339.2" fill="#fff" stroke="#4a4ae8" stroke-width="2.6"/>
<polygon points="1775.5,1329.1 1796.0,1349.6 1775.5,1370.1 1755.0,1349.6" fill="#fff" stroke="#4a4ae8" stroke-width="2.6"/>
<polygon points="786.5,292.5 807.5,313.5 786.5,334.5 765.5,313.5" fill="#0000ff"/>
<polygon points="1023.5,403.0 1044.5,424.0 1023.5,445.0 1002.5,424.0" fill="#0000ff"/>
<polygon points="1261.7,531.4 1282.7,552.4 1261.7,573.4 1240.7,552.4" fill="#0000ff"/>
<polygon points="1395.8,656.4 1416.8,677.4 1395.8,698.4 1374.8,677.4" fill="#0000ff"/>
<polygon points="1772.2,794.3 1793.2,815.3 1772.2,836.3 1751.2,815.3" fill="#0000ff"/>
<polygon points="785.5,1124.4 806.5,1145.4 785.5,1166.4 764.5,1145.4" fill="#0000ff"/>
<polygon points="1023.6,1197.1 1044.6,1218.1 1023.6,1239.1 1002.6,1218.1" fill="#0000ff"/>
<polygon points="1260.3,1195.8 1281.3,1216.8 1260.3,1237.8 1239.3,1216.8" fill="#0000ff"/>
<polygon points="1518.2,1212.4 1539.2,1233.4 1518.2,1254.4 1497.2,1233.4" fill="#0000ff"/>
<polygon points="1775.5,1222.2 1796.5,1243.2 1775.5,1264.2 1754.5,1243.2" fill="#0000ff"/>
<path d="M786.5,227.3 V292.5 M773.0,227.3 H800.0 M786.5,334.5 V401.8 M773.0,401.8 H800.0" stroke="rgba(10,10,230,0.48)" stroke-width="4.5" fill="none"/>
<path d="M1023.5,341.3 V403.0 M1010.0,341.3 H1037.0 M1023.5,445.0 V506.1 M1010.0,506.1 H1037.0" stroke="rgba(10,10,230,0.48)" stroke-width="4.5" fill="none"/>
<path d="M1261.7,476.4 V531.4 M1248.2,476.4 H1275.2 M1261.7,573.4 V626.7 M1248.2,626.7 H1275.2" stroke="rgba(10,10,230,0.48)" stroke-width="4.5" fill="none"/>
<path d="M1395.8,609.1 V656.4 M1382.3,609.1 H1409.3 M1395.8,698.4 V748.6 M1382.3,748.6 H1409.3" stroke="rgba(10,10,230,0.48)" stroke-width="4.5" fill="none"/>
<path d="M1772.2,752.7 V794.3 M1758.7,752.7 H1785.7 M1772.2,836.3 V877.1 M1758.7,877.1 H1785.7" stroke="rgba(10,10,230,0.48)" stroke-width="4.5" fill="none"/>
<path d="M785.5,1114.0 V1124.4 M772.5,1114.0 H798.5 M785.5,1166.4 V1178.0 M772.5,1178.0 H798.5" stroke="rgba(10,10,220,0.66)" stroke-width="4" fill="none"/>
<path d="M1023.6,1190.9 V1197.1 M1010.6,1190.9 H1036.6 M1023.6,1239.1 V1245.4 M1010.6,1245.4 H1036.6" stroke="rgba(10,10,220,0.66)" stroke-width="4" fill="none"/>
<path d="M1260.3,1188.2 V1195.8 M1247.3,1188.2 H1273.3 M1260.3,1237.8 V1244.1 M1247.3,1244.1 H1273.3" stroke="rgba(10,10,220,0.66)" stroke-width="4" fill="none"/>
<path d="M1518.2,1207.5 V1212.4 M1505.2,1207.5 H1531.2 M1518.2,1254.4 V1261.2 M1505.2,1261.2 H1531.2" stroke="rgba(10,10,220,0.66)" stroke-width="4" fill="none"/>
<path d="M1775.5,1217.9 V1222.2 M1762.5,1217.9 H1788.5 M1775.5,1264.2 V1270.1 M1762.5,1270.1 H1788.5" stroke="rgba(10,10,220,0.66)" stroke-width="4" fill="none"/>
<path d="M785.5,1253.0 V1255.0 M772.5,1253.0 H798.5 M785.5,1298.6 V1299.0 M772.5,1299.0 H798.5" stroke="rgba(10,10,220,0.66)" stroke-width="4" fill="none"/>
<path d="M1010.6,1304.4 H1036.6 M1010.6,1345.3 H1036.6" stroke="rgba(10,10,220,0.66)" stroke-width="4" fill="none"/>
<path d="M1247.3,1293.9 H1273.3 M1247.3,1333.1 H1273.3" stroke="rgba(10,10,220,0.66)" stroke-width="4" fill="none"/>
<path d="M1505.2,1319.0 H1531.2 M1505.2,1359.3 H1531.2" stroke="rgba(10,10,220,0.66)" stroke-width="4" fill="none"/>
<path d="M1762.5,1329.4 H1788.5 M1762.5,1369.7 H1788.5" stroke="rgba(10,10,220,0.66)" stroke-width="4" fill="none"/>
<g stroke="#000" stroke-width="4.8" fill="none" stroke-linecap="square">
<path d="M348.3,70.0 H2326.5"/>
<path d="M348.3,1561.5 H2326.5"/>
<path d="M348.3,70.0 V1036.2"/>
<path d="M348.3,1083.8 V1561.5"/>
<path d="M2326.5,70.0 V1047"/>
<path d="M2326.5,1087.5 V1561.5"/>
</g>
<path d="M545.9,1561.5 V1547.0 M545.9,70.0 V84.5 M743.8,1561.5 V1534.5 M743.8,70.0 V97.0 M941.7,1561.5 V1547.0 M941.7,70.0 V84.5 M1139.6,1561.5 V1534.5 M1139.6,70.0 V97.0 M1337.5,1561.5 V1547.0 M1337.5,70.0 V84.5 M1535.4,1561.5 V1534.5 M1535.4,70.0 V97.0 M1733.3,1561.5 V1547.0 M1733.3,70.0 V84.5 M1931.2,1561.5 V1534.5 M1931.2,70.0 V97.0 M2129.1,1561.5 V1547.0 M2129.1,70.0 V84.5 M348.3,141.1 H361.8 M2326.5,141.1 H2313.0 M348.3,212.1 H374.3 M2326.5,212.1 H2300.5 M348.3,283.2 H361.8 M2326.5,283.2 H2313.0 M348.3,354.2 H374.3 M2326.5,354.2 H2300.5 M348.3,425.3 H361.8 M2326.5,425.3 H2313.0 M348.3,496.4 H374.3 M2326.5,496.4 H2300.5 M348.3,567.4 H361.8 M2326.5,567.4 H2313.0 M348.3,638.5 H374.3 M2326.5,638.5 H2300.5 M348.3,709.5 H361.8 M2326.5,709.5 H2313.0 M348.3,780.6 H374.3 M2326.5,780.6 H2300.5 M348.3,851.7 H361.8 M2326.5,851.7 H2313.0 M348.3,922.7 H374.3 M2326.5,922.7 H2300.5 M348.3,993.8 H361.8 M2326.5,993.8 H2313.0 M348.3,1165.4 H374.3 M2326.5,1165.4 H2300.5 M348.3,1264.5 H361.8 M2326.5,1264.5 H2313.0 M348.3,1363.6 H374.3 M2326.5,1363.6 H2300.5 M348.3,1462.7 H361.8 M2326.5,1462.7 H2313.0" stroke="#000" stroke-width="4.6" fill="none"/>
<path d="M329.0,1053.1 C330.5,1050.6 333.5,1048.9 336.3,1048.9 C342.0,1048.9 350.6,1054.7 356.3,1054.7 C359.5,1054.7 362.0,1051.8 363.5,1048.9 M329.5,1070.8 C331.0,1068.3 334.0,1066.6 336.8,1066.6 C342.5,1066.6 351.1,1072.4 356.8,1072.4 C360.0,1072.4 362.5,1069.5 364.0,1066.6 M2310.0,1060.6 C2311.5,1058.1 2314.5,1056.4 2317.3,1056.4 C2323.0,1056.4 2331.6,1062.2 2337.3,1062.2 C2340.5,1062.2 2343.0,1059.3 2344.5,1056.4 M2310.0,1078.4 C2311.5,1075.9 2314.5,1074.2 2317.3,1074.2 C2323.0,1074.2 2331.6,1080.0 2337.3,1080.0 C2340.5,1080.0 2343.0,1077.1 2344.5,1074.2" stroke="#000" stroke-width="3.6" fill="none" stroke-linecap="butt"/>
<text x="320.5" y="97.8" font-size="70" text-anchor="end">2,800</text>
<text x="320.5" y="239.9" font-size="70" text-anchor="end">2,600</text>
<text x="320.5" y="381.6" font-size="70" text-anchor="end">2,400</text>
<text x="320.5" y="523.3" font-size="70" text-anchor="end">2,200</text>
<text x="320.5" y="664.4" font-size="70" text-anchor="end">2,000</text>
<text x="320.5" y="804.9" font-size="70" text-anchor="end">1,800</text>
<text x="320.5" y="945.4" font-size="70" text-anchor="end">1,600</text>
<text x="320.5" y="1188" font-size="70" text-anchor="end">600</text>
<text x="320.5" y="1381.5" font-size="70" text-anchor="end">400</text>
<text x="320.5" y="1576.5" font-size="70" text-anchor="end">200</text>
<text x="348.3" y="1642.5" font-size="70" text-anchor="middle">260</text>
<text x="741.5" y="1642.5" font-size="70" text-anchor="middle">280</text>
<text x="1136.4" y="1642.5" font-size="70" text-anchor="middle">300</text>
<text x="1530.6" y="1642.5" font-size="70" text-anchor="middle">320</text>
<text x="1925" y="1642.5" font-size="70" text-anchor="middle">340</text>
<text x="2319.1" y="1642.5" font-size="70" text-anchor="middle">360</text>
<text x="1262.5" y="1752.5" font-size="69" style="font-family:'Liberation Sans',Arial,sans-serif;font-style:italic">T</text>
<text x="1320.7" y="1752.5" font-size="69">(</text>
<text x="1342.9" y="1752.5" font-size="69">K</text>
<text x="1391" y="1752.5" font-size="69">)</text>
<g transform="translate(94,988) rotate(-90)"><text x="1.3" y="0" font-size="72" style="font-family:'Liberation Serif','Times New Roman',serif;font-style:italic">λ</text><text x="53.8" y="0" font-size="69">(</text><text x="79.1" y="0" font-size="69">W</text><text x="141.5" y="0" font-size="69">m</text><text x="199.1" y="-23.7" font-size="55">−</text><text x="222.5" y="-29.4" font-size="46.5">1</text><text x="274.6" y="0" font-size="69">K</text><text x="329.5" y="-23.7" font-size="55">−</text><text x="355.3" y="-29.4" font-size="46.5">1</text><text x="387.6" y="0" font-size="69">)</text></g>
<text x="503.8" y="757.1" font-size="69" style="font-family:'Liberation Serif','Times New Roman',serif;font-style:italic">λ</text>
<text x="533.8" y="776.7" font-size="51">P</text>
<text x="585.7" y="755.5" font-size="69">of pristine graphene</text>
<text x="502.1" y="990.4" font-size="69" style="font-family:'Liberation Serif','Times New Roman',serif;font-style:italic">λ</text>
<text x="531.6" y="1009.2" font-size="51">M</text>
<text x="593.4" y="988.1" font-size="69">of modified graphene</text>
<path d="M836.8,667.6 L881.6,607.6" stroke="#000" stroke-width="4.6"/><polygon points="895.4,589.2 890.7,618.8 881.6,607.6 868.3,602.0" fill="#000"/>
<path d="M837.8,1040.6 L882.0,1098.0" stroke="#000" stroke-width="4.6"/><polygon points="896.0,1116.2 868.7,1103.7 882.0,1098.0 890.9,1086.7" fill="#000"/>
<rect x="1456" y="124" width="809" height="322" fill="#fff" stroke="#1a1a1a" stroke-width="3.6"/>
<rect x="1507.8" y="147.6" width="29.5" height="29.5" fill="#fff" stroke="#555" stroke-width="2.6"/>
<rect x="1573.0" y="147.0" width="32" height="32" fill="#000"/>
<circle cx="1521.5" cy="239.0" r="16.5" fill="#fff" stroke="#e05a5a" stroke-width="2.2"/>
<circle cx="1587.0" cy="238.5" r="18" fill="#ff0000"/>
<polygon points="1524.5,296.4 1546.5,318.4 1524.5,340.4 1502.5,318.4" fill="#fff" stroke="#5555e0" stroke-width="2.4"/>
<polygon points="1588.5,294.6 1611.5,317.6 1588.5,340.6 1565.5,317.6" fill="#0000ff"/>
<path d="M1506,380.1 H1619" stroke="#111" stroke-width="3.6"/>
<path d="M1506,399 H1619" stroke="#e8303a" stroke-width="3.6"/>
<path d="M1506,417.1 H1619" stroke="#2020e0" stroke-width="3.6"/>
<text x="1650.3" y="182.3" font-size="62" textLength="281" lengthAdjust="spacingAndGlyphs">Sample #1</text>
<text x="1650.3" y="259.2" font-size="62" textLength="281" lengthAdjust="spacingAndGlyphs">Sample #2</text>
<text x="1650.3" y="337.8" font-size="62" textLength="281" lengthAdjust="spacingAndGlyphs">Sample #3</text>
<text x="1648.9" y="418" font-size="62" textLength="588" lengthAdjust="spacingAndGlyphs">Theoretical calculation</text>
</svg></body></html>
